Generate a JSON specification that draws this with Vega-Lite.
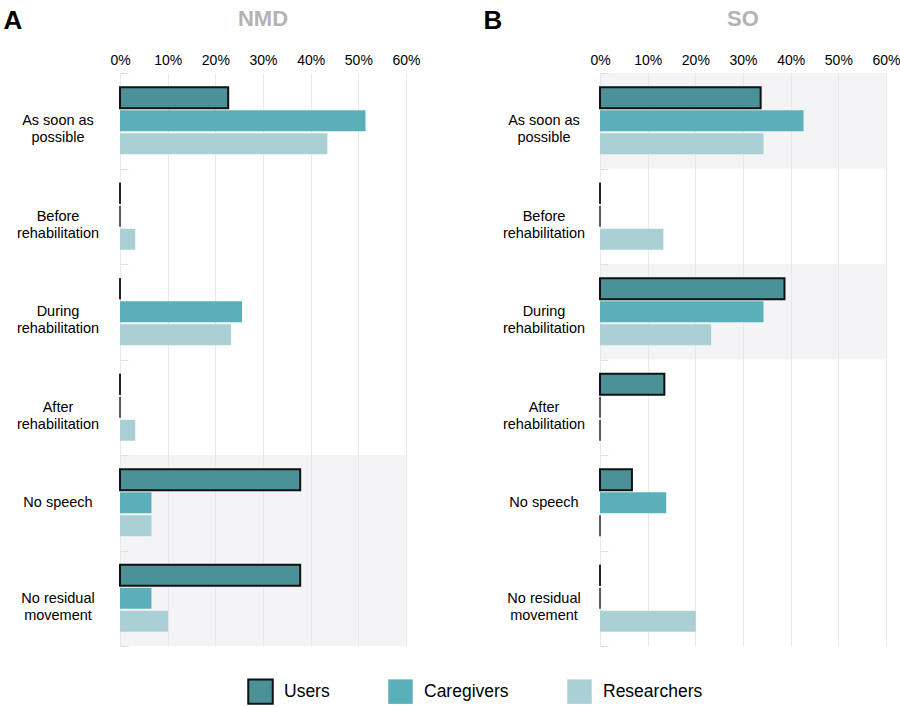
{
  "$schema": "https://vega.github.io/schema/vega-lite/v6.json",
  "padding": {"left": 3, "top": 7, "right": 0, "bottom": 0},
  "background": "white",
  "datasets": {
    "survey": [
      {"panel": "NMD", "category": "As soon as possible", "group": "Users", "value": 22.7},
      {"panel": "NMD", "category": "As soon as possible", "group": "Caregivers", "value": 51.5},
      {"panel": "NMD", "category": "As soon as possible", "group": "Researchers", "value": 43.5},
      {"panel": "NMD", "category": "Before rehabilitation", "group": "Users", "value": 0},
      {"panel": "NMD", "category": "Before rehabilitation", "group": "Caregivers", "value": 0},
      {"panel": "NMD", "category": "Before rehabilitation", "group": "Researchers", "value": 3.2},
      {"panel": "NMD", "category": "During rehabilitation", "group": "Users", "value": 0},
      {"panel": "NMD", "category": "During rehabilitation", "group": "Caregivers", "value": 25.6},
      {"panel": "NMD", "category": "During rehabilitation", "group": "Researchers", "value": 23.3},
      {"panel": "NMD", "category": "After rehabilitation", "group": "Users", "value": 0},
      {"panel": "NMD", "category": "After rehabilitation", "group": "Caregivers", "value": 0},
      {"panel": "NMD", "category": "After rehabilitation", "group": "Researchers", "value": 3.2},
      {"panel": "NMD", "category": "No speech", "group": "Users", "value": 37.8},
      {"panel": "NMD", "category": "No speech", "group": "Caregivers", "value": 6.6},
      {"panel": "NMD", "category": "No speech", "group": "Researchers", "value": 6.6},
      {"panel": "NMD", "category": "No residual movement", "group": "Users", "value": 37.8},
      {"panel": "NMD", "category": "No residual movement", "group": "Caregivers", "value": 6.6},
      {"panel": "NMD", "category": "No residual movement", "group": "Researchers", "value": 10.1},
      {"panel": "SO", "category": "As soon as possible", "group": "Users", "value": 33.7},
      {"panel": "SO", "category": "As soon as possible", "group": "Caregivers", "value": 42.7},
      {"panel": "SO", "category": "As soon as possible", "group": "Researchers", "value": 34.3},
      {"panel": "SO", "category": "Before rehabilitation", "group": "Users", "value": 0},
      {"panel": "SO", "category": "Before rehabilitation", "group": "Caregivers", "value": 0},
      {"panel": "SO", "category": "Before rehabilitation", "group": "Researchers", "value": 13.3},
      {"panel": "SO", "category": "During rehabilitation", "group": "Users", "value": 38.7},
      {"panel": "SO", "category": "During rehabilitation", "group": "Caregivers", "value": 34.3},
      {"panel": "SO", "category": "During rehabilitation", "group": "Researchers", "value": 23.3},
      {"panel": "SO", "category": "After rehabilitation", "group": "Users", "value": 13.5},
      {"panel": "SO", "category": "After rehabilitation", "group": "Caregivers", "value": 0},
      {"panel": "SO", "category": "After rehabilitation", "group": "Researchers", "value": 0},
      {"panel": "SO", "category": "No speech", "group": "Users", "value": 6.7},
      {"panel": "SO", "category": "No speech", "group": "Caregivers", "value": 13.9},
      {"panel": "SO", "category": "No speech", "group": "Researchers", "value": 0},
      {"panel": "SO", "category": "No residual movement", "group": "Users", "value": 0},
      {"panel": "SO", "category": "No residual movement", "group": "Caregivers", "value": 0},
      {"panel": "SO", "category": "No residual movement", "group": "Researchers", "value": 20.1}
    ]
  },
  "data": {"name": "survey"},
  "spacing": 62,
  "hconcat": [
    {
      "width": 286,
      "height": 573,
      "title": {"text": "NMD"},
      "transform": [{"filter": "datum.panel === 'NMD'"}],
      "encoding": {
        "y": {
          "field": "category", "type": "nominal",
          "sort": ["As soon as possible", "Before rehabilitation", "During rehabilitation", "After rehabilitation", "No speech", "No residual movement"],
          "scale": {"paddingInner": 0, "paddingOuter": 0},
          "axis": {"title": "A", "labelPadding": 70.5}
        }
      },
      "layer": [
        {
          "transform": [{"filter": "datum.group === 'Users' && (datum.category === 'No speech' || datum.category === 'No residual movement')"}],
          "mark": {"type": "rect", "fill": "#e6e6ee", "opacity": 0.45},
          "encoding": {"x": {"datum": 0, "type": "quantitative"}, "x2": {"datum": 60}}
        },
        {
          "mark": {"type": "bar", "strokeWidth": 2},
          "encoding": {
            "x": {"field": "value", "type": "quantitative", "scale": {"domain": [0, 60]}},
            "yOffset": {"field": "group", "sort": ["Users", "Caregivers", "Researchers"], "scale": {"paddingInner": 0.09, "paddingOuter": 0.62}},
            "color": {"field": "group", "type": "nominal", "sort": ["Users", "Caregivers", "Researchers"], "scale": {"domain": ["Users", "Caregivers", "Researchers"], "range": ["#4a9198", "#5aafb8", "#aacfd4"]}, "title": null},
            "stroke": {"field": "group", "type": "nominal", "sort": ["Users", "Caregivers", "Researchers"], "scale": {"domain": ["Users", "Caregivers", "Researchers"], "range": ["#111111", "transparent", "transparent"]}, "title": null}
          }
        },
        {
          "transform": [{"filter": "datum.value === 0"}],
          "mark": {"type": "bar", "fill": "transparent", "stroke": "#2a2a2a", "strokeWidth": 1.5},
          "encoding": {
            "x": {"field": "value", "type": "quantitative"},
            "yOffset": {"field": "group", "sort": ["Users", "Caregivers", "Researchers"]}
          }
        }
      ]
    },
    {
      "width": 286,
      "height": 573,
      "title": {"text": "SO"},
      "transform": [{"filter": "datum.panel === 'SO'"}],
      "encoding": {
        "y": {
          "field": "category", "type": "nominal",
          "sort": ["As soon as possible", "Before rehabilitation", "During rehabilitation", "After rehabilitation", "No speech", "No residual movement"],
          "scale": {"paddingInner": 0, "paddingOuter": 0},
          "axis": {"title": "B", "labelPadding": 64.5}
        }
      },
      "layer": [
        {
          "transform": [{"filter": "datum.group === 'Users' && (datum.category === 'As soon as possible' || datum.category === 'During rehabilitation')"}],
          "mark": {"type": "rect", "fill": "#e6e6ee", "opacity": 0.45},
          "encoding": {"x": {"datum": 0, "type": "quantitative"}, "x2": {"datum": 60}}
        },
        {
          "mark": {"type": "bar", "strokeWidth": 2},
          "encoding": {
            "x": {"field": "value", "type": "quantitative", "scale": {"domain": [0, 60]}},
            "yOffset": {"field": "group", "sort": ["Users", "Caregivers", "Researchers"], "scale": {"paddingInner": 0.09, "paddingOuter": 0.62}},
            "color": {"field": "group", "type": "nominal", "sort": ["Users", "Caregivers", "Researchers"], "scale": {"domain": ["Users", "Caregivers", "Researchers"], "range": ["#4a9198", "#5aafb8", "#aacfd4"]}, "title": null},
            "stroke": {"field": "group", "type": "nominal", "sort": ["Users", "Caregivers", "Researchers"], "scale": {"domain": ["Users", "Caregivers", "Researchers"], "range": ["#111111", "transparent", "transparent"]}, "title": null}
          }
        },
        {
          "transform": [{"filter": "datum.value === 0"}],
          "mark": {"type": "bar", "fill": "transparent", "stroke": "#2a2a2a", "strokeWidth": 1.5},
          "encoding": {
            "x": {"field": "value", "type": "quantitative"},
            "yOffset": {"field": "group", "sort": ["Users", "Caregivers", "Researchers"]}
          }
        }
      ]
    }
  ],
  "config": {
    "font": "Liberation Sans",
    "view": {"stroke": null},
    "title": {"fontSize": 22, "fontWeight": "bold", "color": "#b3b3b3", "anchor": "middle", "frame": "group", "offset": -24},
    "axisX": {
      "orient": "top", "values": [0, 10, 20, 30, 40, 50, 60], "labelExpr": "datum.value + '%'",
      "title": null, "domain": false, "ticks": false, "labelFontSize": 14, "labelColor": "#000000",
      "labelPadding": 6, "grid": true, "gridColor": "#e9e9ec", "labelFlush": false
    },
    "axisY": {
      "titleAngle": 0, "titleFontSize": 26, "titleFontWeight": "bold", "titleColor": "#000000",
      "titleAlign": "left", "titleBaseline": "alphabetic", "titleX": -117, "titleY": -45,
      "labelAlign": "center", "labelBaseline": "middle", "labelFontSize": 14.5, "labelLineHeight": 17,
      "labelColor": "#000000", "domain": false, "ticks": true, "tickBand": "extent",
      "tickSize": -8, "tickColor": "#dddddd", "grid": false,
      "labelExpr": "datum.value == null ? '' : datum.value === 'As soon as possible' ? ['As soon as', 'possible'] : datum.value === 'No residual movement' ? ['No residual', 'movement'] : datum.value === 'No speech' ? datum.value : split(datum.value, ' ')"
    },
    "legend": {
      "orient": "none", "legendX": 127, "legendY": 605, "direction": "horizontal",
      "symbolType": "square", "symbolSize": 600, "symbolStrokeWidth": 2, "symbolOpacity": 1,
      "labelFontSize": 17.5, "labelColor": "#000000", "labelOffset": 10, "columnPadding": 54
    }
  }
}
